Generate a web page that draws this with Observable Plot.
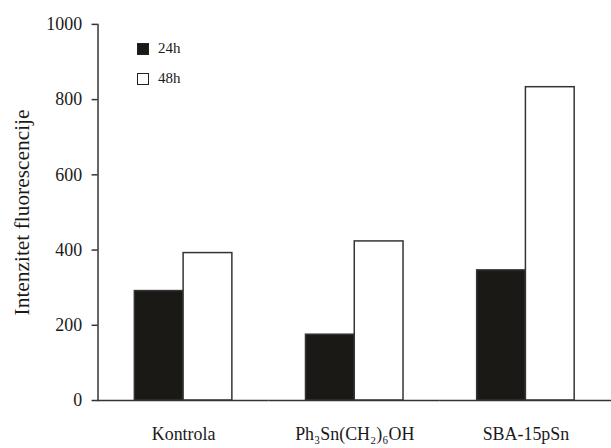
<!DOCTYPE html>
<html>
<head>
<meta charset="utf-8">
<script src="https://cdn.jsdelivr.net/npm/d3@7"></script>
<script src="https://cdn.jsdelivr.net/npm/@observablehq/plot@0.6"></script>
<style>
  html, body { margin: 0; padding: 0; background: white; overflow: hidden; }
  #wrap { position: relative; width: 611px; height: 448px; }
  #legend { position: absolute; left: 137px; top: 41px; font-family: "Liberation Serif", serif; font-size: 15px; color: #1a1a1a; }
  .row { display: flex; align-items: center; height: 15px; margin-bottom: 15px; }
  .sw { width: 10px; height: 10px; border: 1px solid #222; margin-right: 9px; }
</style>
</head>
<body>
<div id="wrap"><div id="legend"></div></div>
<script>
const categories = ["Kontrola", "Ph₃Sn(CH₂)₆OH", "SBA-15pSn"];
const series = ["24h", "48h"];
const values24 = [291, 175, 346];
const values48 = [392, 423, 833];
const yTicks = [0, 200, 400, 600, 800, 1000];
const yTitle = "Intenzitet fluorescencije";
const seriesColors = ["#1b1916", "#ffffff"];

const data = categories.flatMap((c, i) => [
  {category: c, series: series[0], value: values24[i]},
  {category: c, series: series[1], value: values48[i]}
]);

const chart = Plot.plot({
  width: 614,
  height: 448,
  marginTop: 24,
  marginLeft: 98,
  marginRight: 0,
  marginBottom: 46,
  style: {fontFamily: "Liberation Serif, serif", fontSize: "18px", color: "#1a1a1a", background: "white"},
  fx: {domain: categories, padding: 0},
  x: {domain: series, paddingInner: 0, paddingOuter: 0.755, axis: null},
  y: {domain: [0, 1000]},
  color: {type: "ordinal", domain: series, range: seriesColors},
  marks: [
    Plot.axisFx({anchor: "bottom", tickSize: 0, tickPadding: 27, fontSize: 18, label: null}),
    Plot.axisY({ticks: yTicks, tickSize: 6, tickPadding: 10, tickFormat: "d", fontSize: 18,
      label: null, stroke: "#333", strokeWidth: 1.5}),
    Plot.text([yTitle], {frameAnchor: "left", textAnchor: "middle", rotate: -90, dx: -76, fontSize: 21.5, facetAnchor: "left", fill: "#1a1a1a"}),
    Plot.frame({anchor: "left", facetAnchor: "left", stroke: "#333", strokeWidth: 1.5}),
    Plot.barY(data, {fx: "category", x: "series", y: "value", fill: "series", stroke: "#333", strokeWidth: 1.5}),
    Plot.ruleY([0], {stroke: "#333", strokeWidth: 1.5})
  ]
});
document.getElementById("wrap").insertBefore(chart, document.getElementById("legend"));

const legend = document.getElementById("legend");
series.forEach((s, i) => {
  const row = document.createElement("div");
  row.className = "row";
  const sw = document.createElement("div");
  sw.className = "sw";
  sw.style.background = seriesColors[i];
  const t = document.createElement("span");
  t.textContent = s;
  row.appendChild(sw);
  row.appendChild(t);
  legend.appendChild(row);
});
</script>
</body>
</html>
